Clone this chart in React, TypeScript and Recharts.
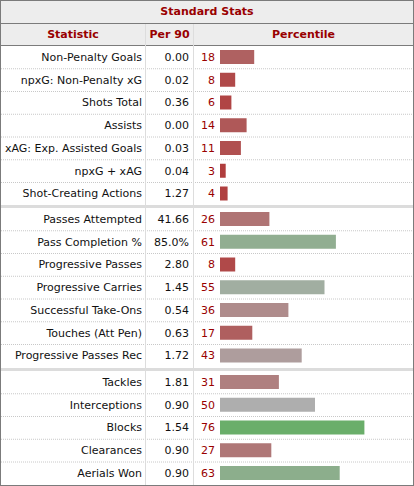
import React from 'react';
import { BarChart, Bar, XAxis, YAxis, LabelList, Cell } from 'recharts';

// Attacking block
const attackingStats = [
  'Non-Penalty Goals',
  'npxG: Non-Penalty xG',
  'Shots Total',
  'Assists',
  'xAG: Exp. Assisted Goals',
  'npxG + xAG',
  'Shot-Creating Actions',
];
const attackingPer90 = ['0.00', '0.02', '0.36', '0.00', '0.03', '0.04', '1.27'];
const attackingPercentile = [18, 8, 6, 14, 11, 3, 4];

// Possession block
const possessionStats = [
  'Passes Attempted',
  'Pass Completion %',
  'Progressive Passes',
  'Progressive Carries',
  'Successful Take-Ons',
  'Touches (Att Pen)',
  'Progressive Passes Rec',
];
const possessionPer90 = ['41.66', '85.0%', '2.80', '1.45', '0.54', '0.63', '1.72'];
const possessionPercentile = [26, 61, 8, 55, 36, 17, 43];

// Defending block
const defendingStats = ['Tackles', 'Interceptions', 'Blocks', 'Clearances', 'Aerials Won'];
const defendingPer90 = ['1.81', '0.90', '1.54', '0.90', '0.90'];
const defendingPercentile = [31, 50, 76, 27, 63];

const FONT = '"DejaVu Sans", Verdana, sans-serif';
const ROW_H = 22.75;
const INNER_W = 412;
const LABEL_COL = 219; // left area holding the statistic / per 90 / percentile text
const DARK_RED = '#990000';

// Red (low) -> grey (50th) -> green (high)
function percentileColor(p: number): string {
  if (p <= 50) {
    const gb = Math.round(54 + (174 - 54) * (p / 50));
    const r = Math.round(176 - 2 * (p / 50));
    return `rgb(${r},${gb},${gb})`;
  }
  const rb = Math.round(174 - (174 - 43) * ((p - 50) / 50));
  return `rgb(${rb},174,${rb})`;
}

type Row = { stat: string; per90: string; pct: number };

function buildRows(stats: string[], per90: string[], pct: number[]): Row[] {
  return stats.map((s, i) => ({ stat: s, per90: per90[i], pct: pct[i] }));
}

function makeTick(rows: Row[]) {
  return function StatTick(props: any) {
    const { y, index } = props;
    const i = typeof index === 'number' ? index : rows.findIndex((r) => r.stat === props.payload?.value);
    const row = rows[i];
    if (!row) return null;
    const isLast = i === rows.length - 1;
    return (
      <g>
        <text
          x={141}
          y={y}
          textAnchor="end"
          dominantBaseline="central"
          fontFamily={FONT}
          fontSize={11}
          fill="#111"
        >
          {row.stat}
        </text>
        <text
          x={188}
          y={y}
          textAnchor="end"
          dominantBaseline="central"
          fontFamily={FONT}
          fontSize={11}
          fill="#111"
        >
          {row.per90}
        </text>
        {!isLast && (
          <line
            x1={0}
            x2={INNER_W}
            y1={y + ROW_H / 2}
            y2={y + ROW_H / 2}
            stroke="#c8c8c8"
            strokeWidth={1}
            strokeDasharray="1 1"
          />
        )}
      </g>
    );
  };
}

function StatBlock({ rows }: { rows: Row[] }) {
  const h = rows.length * ROW_H;
  return (
    <BarChart
      width={INNER_W}
      height={h}
      data={rows}
      layout="vertical"
      margin={{ top: 0, right: 3, bottom: 0, left: 0 }}
      barCategoryGap={0}
    >
      <XAxis type="number" domain={[0, 100]} hide />
      <YAxis
        type="category"
        dataKey="stat"
        width={LABEL_COL}
        tickLine={false}
        axisLine={false}
        interval={0}
        tick={makeTick(rows)}
      />
      <Bar dataKey="pct" barSize={14} isAnimationActive={false}>
        {rows.map((r, i) => (
          <Cell key={i} fill={percentileColor(r.pct)} />
        ))}
        <LabelList
          dataKey="pct"
          position="left"
          offset={5}
          fill={DARK_RED}
          fontFamily={FONT}
          fontSize={11}
        />
      </Bar>
    </BarChart>
  );
}

const attackingRows = buildRows(attackingStats, attackingPer90, attackingPercentile);
const possessionRows = buildRows(possessionStats, possessionPer90, possessionPercentile);
const defendingRows = buildRows(defendingStats, defendingPer90, defendingPercentile);

const headCell: React.CSSProperties = {
  position: 'absolute',
  top: 0,
  height: 21,
  lineHeight: '21px',
  textAlign: 'center',
  fontWeight: 'bold',
  color: DARK_RED,
};

export default function App() {
  return (
    <div
      style={{
        position: 'absolute',
        left: 0,
        top: 0,
        width: 414,
        height: 486,
        boxSizing: 'border-box',
        border: '1px solid #7b7b7b',
        background: '#fff',
        fontFamily: FONT,
        fontSize: 11,
        overflow: 'hidden',
      }}
    >
      <div
        style={{
          height: 22,
          lineHeight: '22px',
          background: '#ededed',
          borderBottom: '1px solid #7b7b7b',
          textAlign: 'center',
          fontWeight: 'bold',
          color: DARK_RED,
        }}
      >
        Standard Stats
      </div>
      <div
        style={{
          position: 'relative',
          height: 21,
          background: '#ededed',
          borderBottom: '1px solid #7b7b7b',
        }}
      >
        <div style={{ ...headCell, left: 0, width: 144 }}>Statistic</div>
        <div style={{ ...headCell, left: 145, width: 47 }}>Per 90</div>
        <div style={{ ...headCell, left: 193, width: 219 }}>Percentile</div>
      </div>
      <div style={{ position: 'relative' }}>
        <StatBlock rows={attackingRows} />
        <div style={{ height: 3, background: '#dcdcdc' }} />
        <StatBlock rows={possessionRows} />
        <div style={{ height: 3, background: '#dcdcdc' }} />
        <StatBlock rows={defendingRows} />
      </div>
      {/* column separators */}
      <div style={{ position: 'absolute', left: 144, top: 23, bottom: 0, width: 1, background: '#dddddd' }} />
      <div style={{ position: 'absolute', left: 192, top: 23, bottom: 0, width: 1, background: '#dddddd' }} />
    </div>
  );
}
